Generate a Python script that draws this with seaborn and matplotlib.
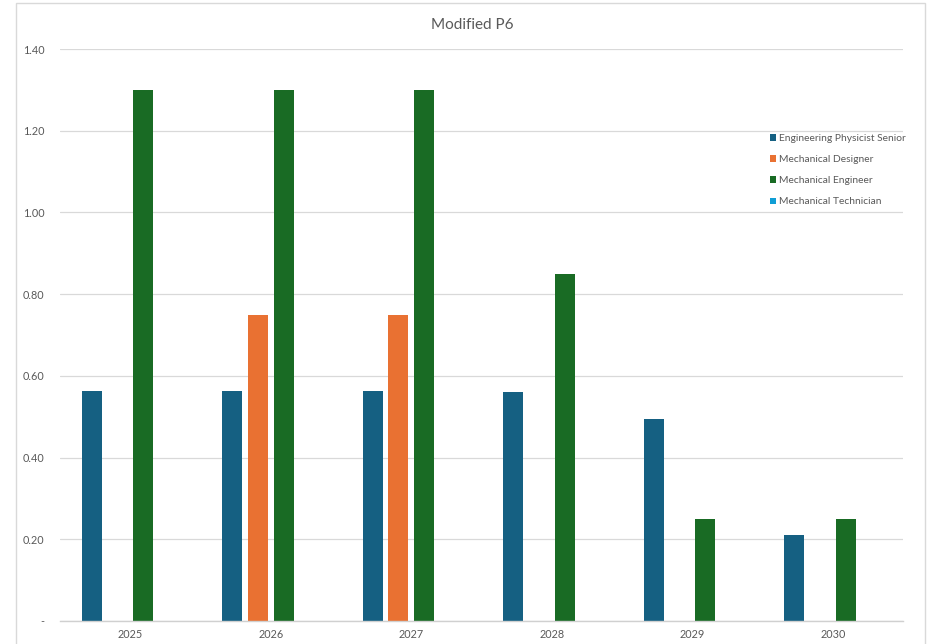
import matplotlib
matplotlib.use("Agg")
import matplotlib.pyplot as plt
from matplotlib.patches import Patch, Rectangle
from matplotlib.ticker import FuncFormatter, MultipleLocator
import seaborn as sns
import pandas as pd

years = ["2025", "2026", "2027", "2028", "2029", "2030"]
roles = ["Engineering Physicist Senior", "Mechanical Designer",
         "Mechanical Engineer", "Mechanical Technician"]
physicist_senior = [0.563, 0.563, 0.563, 0.560, 0.494, 0.210]
mech_designer = [0.0, 0.75, 0.75, 0.0, 0.0, 0.0]
mech_engineer = [1.30, 1.30, 1.30, 0.85, 0.25, 0.25]
mech_technician = [0.0, 0.0, 0.0, 0.0, 0.0, 0.0]
colors = ["#156082", "#E97132", "#196B24", "#0F9ED5"]

series = [physicist_senior, mech_designer, mech_engineer, mech_technician]
df = pd.DataFrame(
    [(y, r, v) for r, vals in zip(roles, series) for y, v in zip(years, vals)],
    columns=["year", "role", "fte"],
)

sns.set_theme(style="white")
plt.rcParams["font.family"] = ["Lato", "DejaVu Sans"]

fig = plt.figure(figsize=(9.27, 6.44), dpi=100)
ax = fig.add_axes([60 / 927, 1 - 621 / 644, (903 - 60) / 927, (621 - 49) / 644])

sns.barplot(data=df, x="year", y="fte", hue="role", hue_order=roles,
            palette=colors, saturation=1, width=0.73, gap=0.22, linewidth=0,
            errorbar=None, legend=False, ax=ax)

ax.set_ylim(0, 1.4)
ax.set_xlim(-0.5, 5.5)
ax.yaxis.set_major_locator(MultipleLocator(0.2))
ax.yaxis.set_major_formatter(FuncFormatter(lambda v, _: "-" if abs(v) < 1e-9 else f"{v:.2f}"))
ax.grid(axis="y", color="#D9D9D9", linewidth=0.9)
ax.set_axisbelow(True)
for side in ["top", "right", "left"]:
    ax.spines[side].set_visible(False)
ax.spines["bottom"].set_color("#D0D0D0")
ax.spines["bottom"].set_linewidth(1.0)
ax.tick_params(axis="both", length=0, labelsize=7.8, colors="#595959")
ax.tick_params(axis="y", pad=11)
ax.tick_params(axis="x", pad=6)
ax.set_xlabel("")
ax.set_ylabel("")

fig.text(472 / 927, 1 - 25 / 644, "Modified P6", ha="center", va="center",
         fontsize=11, color="#595959")

handles = [Patch(facecolor=c, edgecolor="none", label=r) for c, r in zip(colors, roles)]
fig.legend(handles=handles, loc="upper left",
           bbox_to_anchor=(766 / 927, 1 - 130 / 644), frameon=False,
           fontsize=7.4, labelcolor="#595959", handlelength=0.6, handleheight=0.6,
           handletextpad=0.3, labelspacing=1.18, borderaxespad=0)

fig.add_artist(Rectangle((16 / 927, -0.01), (925 - 16) / 927, 1.0053,
                         transform=fig.transFigure, fill=False,
                         edgecolor="#D9D9D9", linewidth=1.0))

fig.savefig("out.png", dpi=100)
